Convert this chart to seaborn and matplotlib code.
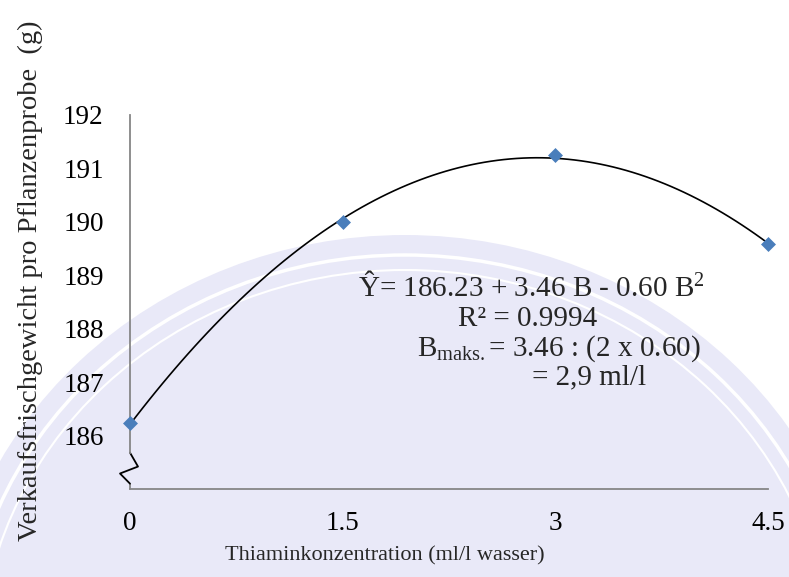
import numpy as np
import pandas as pd
import matplotlib
matplotlib.use("Agg")
import matplotlib.pyplot as plt
import seaborn as sns
from matplotlib.patches import Ellipse

# ---- data ----
thiamine = [0, 1.5, 3, 4.5]
weight = [186.23, 190.0, 191.25, 189.58]
x_ticks = [0, 1.5, 3, 4.5]
x_tick_labels = ["0", "1.5", "3", "4.5"]
y_ticks = [185, 186, 187, 188, 189, 190, 191, 192]
y_tick_labels = ["", "186", "187", "188", "189", "190", "191", "192"]
eq_lines = [
    "Ŷ= 186.23 + 3.46 B - 0.60 B$^{2}$",
    "R² = 0.9994",
    "B$_{\\mathrm{maks.}}$= 3.46 : (2 x 0.60)",
    "= 2,9 ml/l",
]
x_label = "Thiaminkonzentration (ml/l wasser)"
y_label = "Verkaufsfrischgewicht pro Pflanzenprobe  (g)"

sns.set_theme(style="white")
plt.rcParams["font.family"] = ["Liberation Serif", "DejaVu Serif"]
plt.rcParams["mathtext.fontset"] = "custom"
plt.rcParams["mathtext.rm"] = "Liberation Serif"
plt.rcParams["mathtext.it"] = "Liberation Serif:italic"
plt.rcParams["mathtext.bf"] = "Liberation Serif:bold"

W, H = 789, 577
fig = plt.figure(figsize=(W / 100, H / 100), dpi=100)
fig.patch.set_facecolor("white")

# faint watermark seal in the background
cx, cy = 405 / W, 1 - 665 / H
fig.add_artist(Ellipse((cx, cy), 2 * 460 / W, 2 * 430 / H,
                       transform=fig.transFigure, facecolor="#E9E9F8",
                       edgecolor="none", zorder=-10))
fig.add_artist(Ellipse((cx, cy), 2 * 440 / W, 2 * 410 / H,
                       transform=fig.transFigure, facecolor="none",
                       edgecolor="white", lw=2.5, zorder=-9))
fig.add_artist(Ellipse((cx, cy), 2 * 425 / W, 2 * 395 / H,
                       transform=fig.transFigure, facecolor="none",
                       edgecolor="white", lw=1.5, zorder=-9))

ax = fig.add_axes([130 / W, 1 - 489 / H, 638 / W, (489 - 115) / H])
ax.set_facecolor("none")

df = pd.DataFrame({"conc": thiamine, "weight": weight})
sns.regplot(data=df, x="conc", y="weight", order=2, ci=None, scatter=False,
            color="black", line_kws={"lw": 1.2}, truncate=True, ax=ax)
sns.scatterplot(data=df, x="conc", y="weight", marker="D", s=58,
                color="#4A7EBB", edgecolor="#4A7EBB", linewidth=0,
                zorder=5, clip_on=False, ax=ax)

ax.set_xlim(0, 4.5)
ax.set_ylim(185, 192)
ax.set_xlabel("")
ax.set_ylabel("")
ax.set_xticks(x_ticks)
ax.set_xticklabels(x_tick_labels, fontsize=19.5)
ax.set_yticks(y_ticks)
ax.set_yticklabels(y_tick_labels, fontsize=19.5)

axis_color = "#868686"
for side in ["top", "right"]:
    ax.spines[side].set_visible(False)
for side in ["left", "bottom"]:
    ax.spines[side].set_color(axis_color)
    ax.spines[side].set_linewidth(1.3)
ax.spines["left"].set_bounds(185.68, 192)
ax.tick_params(axis="both", direction="out", color=axis_color, width=1.2,
               length=6, labelcolor="black")
ax.tick_params(axis="y", pad=13)
ax.tick_params(axis="x", pad=10)

# axis break symbol
ytr = ax.get_yaxis_transform()
ax.plot([0, 0], [185.0, 185.10], color=axis_color, lw=1.3, transform=ytr,
        clip_on=False)
ax.plot([0, 8 / 638, -10 / 638, 0], [185.68, 185.42, 185.29, 185.10],
        color="black", lw=1.3, transform=ytr, clip_on=False)

# labels
fig.text(385 / W, 1 - 556 / H, x_label, ha="center", va="center", fontsize=16)
fig.text(30 / W, 1 - 281 / H, y_label, ha="center", va="center",
         rotation=90, fontsize=20.5)

# equation annotation
eq_pos = [(358, 296), (458, 326), (417, 356), (532, 384)]
for txt, (px, py) in zip(eq_lines, eq_pos):
    fig.text(px / W, 1 - py / H, txt, ha="left", va="baseline", fontsize=21)

fig.savefig("out.png", dpi=100)
